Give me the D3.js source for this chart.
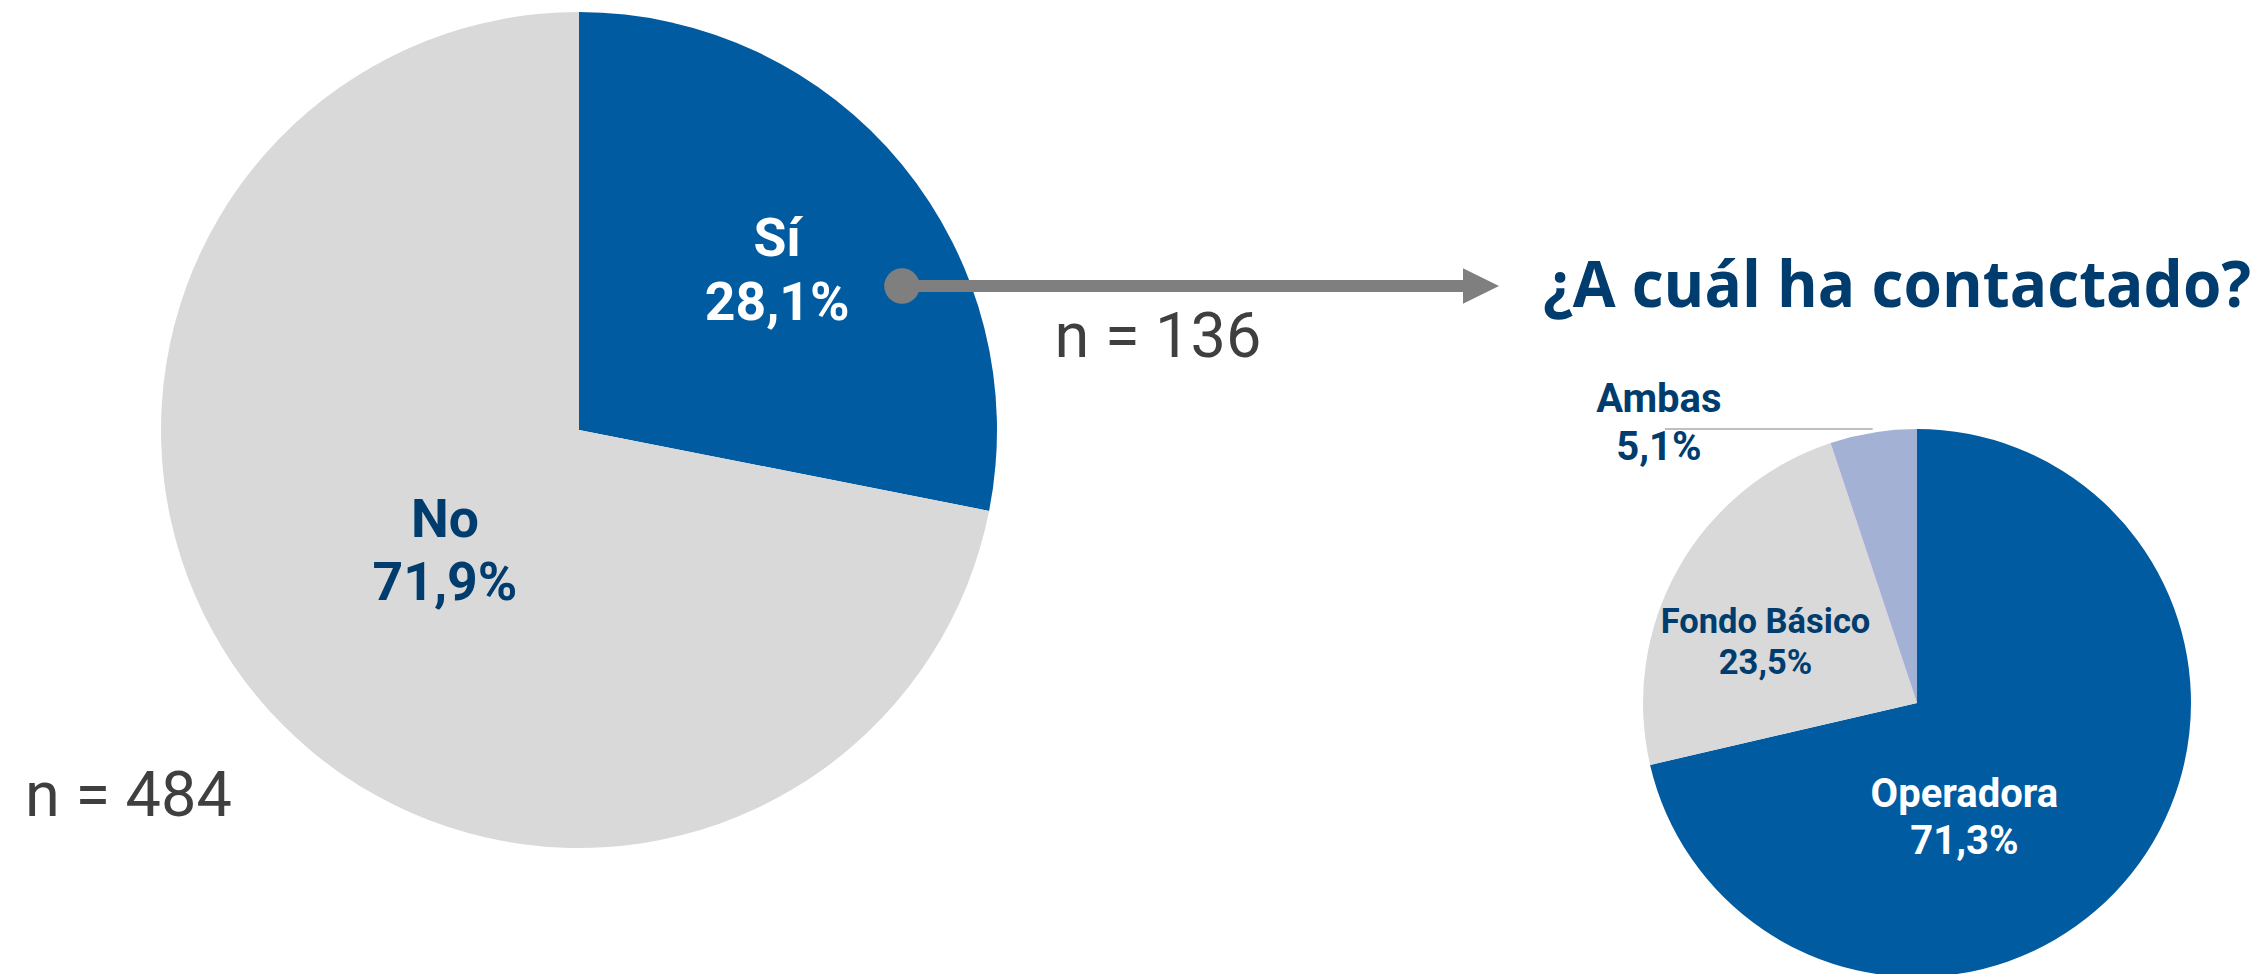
<!DOCTYPE html>
<html>
<head>
<meta charset="utf-8">
<script src="https://cdn.jsdelivr.net/npm/d3@7/dist/d3.min.js"></script>
<style>
  html, body { margin: 0; padding: 0; background: #ffffff; }
  svg { display: block; }
</style>
</head>
<body>
<svg id="chart" width="2264" height="974"></svg>
<script>
// ---- data ----
const mainCategories = ["Sí", "No"];
const mainValues = [28.1, 71.9];
const mainLabels = ["28,1%", "71,9%"];
const mainN = "n = 484";

const subCategories = ["Operadora", "Fondo Básico", "Ambas"];
const subValues = [71.3, 23.5, 5.1];
const subLabels = ["71,3%", "23,5%", "5,1%"];
const subN = "n = 136";
const subTitle = "¿A cuál ha contactado?";

// ---- style / layout ----
const BLUE = "#005BA1", GRAY = "#D9D9D9", LIGHT = "#A2B1D4";
const DARK = "#003D6E", TXT = "#3F3F3F", ARROW = "#7F7F7F";

const svg = d3.select("#chart");
const pie = d3.pie().sort(null).value(d => d.value);

function polar(cx, cy, r, angDeg) {
  const a = angDeg * Math.PI / 180;
  return [cx + r * Math.sin(a), cy - r * Math.cos(a)];
}

function drawPie(cfg) {
  const data = cfg.categories.map((c, i) => ({ cat: c, value: cfg.values[i], label: cfg.labels[i] }));
  const arcs = pie(data);
  const arc = d3.arc().innerRadius(0).outerRadius(cfg.r);
  const g = svg.append("g").attr("transform", `translate(${cfg.cx},${cfg.cy})`);
  g.selectAll("path").data(arcs).join("path")
    .attr("d", arc)
    .attr("fill", (d, i) => cfg.colors[i]);

  arcs.forEach((d, i) => {
    const L = cfg.labelLayout[i];
    const mid = (d.startAngle + d.endAngle) / 2 * 180 / Math.PI;
    const [lx, ly] = polar(0, 0, cfg.r * L.rf, L.ang);
    if (L.leader) {
      const [ex, ey] = polar(0, 0, cfg.r * 1.013, mid);
      g.append("line")
        .attr("x1", lx + 6).attr("y1", ey)
        .attr("x2", ex).attr("y2", ey)
        .attr("stroke", "#BFBFBF").attr("stroke-width", 2);
    }
    const t = g.append("g").attr("transform", `translate(${lx},${ly})`)
      .attr("font-family", "Roboto, 'DejaVu Sans', sans-serif")
      .attr("font-weight", 700)
      .attr("font-size", L.fs)
      .attr("fill", L.color)
      .attr("text-anchor", "middle");
    t.append("text").attr("y", -L.sp / 2).text(d.data.cat);
    t.append("text").attr("y", L.sp / 2).text(d.data.label);
  });
}

// main pie
drawPie({
  cx: 579, cy: 430, r: 418,
  categories: mainCategories, values: mainValues, labels: mainLabels,
  colors: [BLUE, GRAY],
  labelLayout: [
    { ang: 54.4, rf: 0.583, fs: 53.5, sp: 63.3, color: "#FFFFFF" },
    { ang: 224.1, rf: 0.461, fs: 53.5, sp: 63.3, color: DARK }
  ]
});

// sub pie
drawPie({
  cx: 1917, cy: 703, r: 274,
  categories: subCategories, values: subValues, labels: subLabels,
  colors: [BLUE, GRAY, LIGHT],
  labelLayout: [
    { ang: 159.6, rf: 0.496, fs: 40, sp: 47.3, color: "#FFFFFF" },
    { ang: 288.2, rf: 0.582, fs: 34.5, sp: 41.3, color: DARK },
    { ang: 316.0, rf: 1.356, fs: 40, sp: 47.6, color: DARK, leader: true }
  ]
});

// arrow annotation
svg.append("line")
  .attr("x1", 902).attr("y1", 286).attr("x2", 1465).attr("y2", 286)
  .attr("stroke", ARROW).attr("stroke-width", 12);
svg.append("circle").attr("cx", 902).attr("cy", 286).attr("r", 17.8).attr("fill", ARROW);
svg.append("path")
  .attr("d", d3.line()([[1463, 268.3], [1499, 286], [1463, 303.7]]) + "Z")
  .attr("fill", ARROW);

// n labels
svg.append("text").attr("x", 25).attr("y", 816)
  .attr("font-family", "Roboto, sans-serif").attr("font-size", 63)
  .attr("fill", TXT).text(mainN);
svg.append("text").attr("x", 1054.5).attr("y", 357)
  .attr("font-family", "Roboto, sans-serif").attr("font-size", 63)
  .attr("fill", TXT).text(subN);

// title (horizontally scaled to match the original's narrower face)
const titleG = svg.append("g");
const titleT = titleG.append("text")
  .attr("font-family", "'Open Sans', 'Noto Sans', sans-serif")
  .attr("font-weight", 700).attr("font-size", 64.4)
  .attr("fill", "#003C6E")
  .text(subTitle);
const natW = titleT.node().getComputedTextLength();
const sx = Math.min(1, 708 / natW);
titleG.attr("transform", `translate(1543,306.7) scale(${sx},1)`);
</script>
</body>
</html>
